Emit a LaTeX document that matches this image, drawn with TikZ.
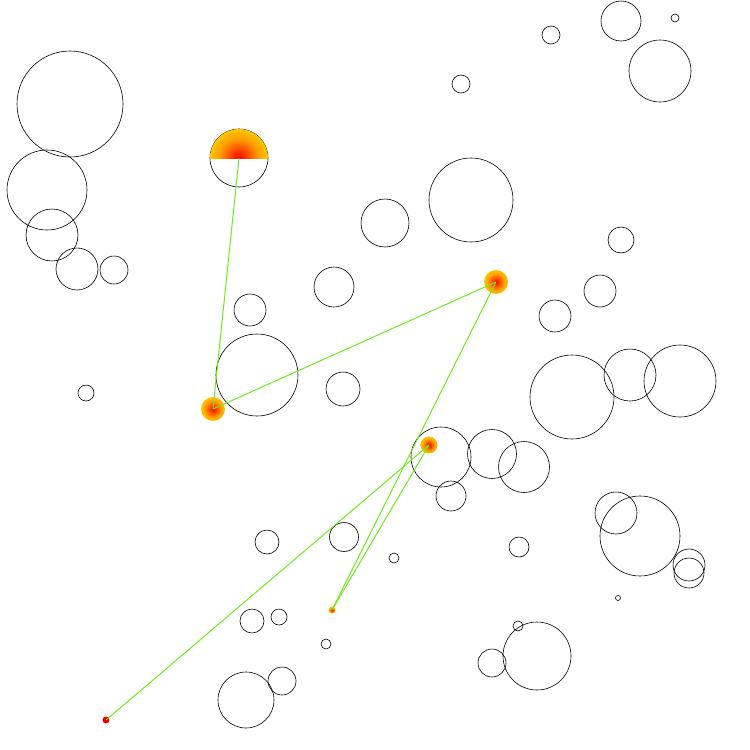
\documentclass[tikz,border=0pt]{standalone}
\usetikzlibrary{shapes.geometric}
\pgfdeclareradialshading{fire}{\pgfpoint{0bp}{0bp}}{color(0bp)=(red); color(8bp)=(red!40!orange); color(17bp)=(orange!75!yellow); color(25bp)=(orange!45!yellow); color(50bp)=(orange!45!yellow)}
\pgfdeclareradialshading{redfire}{\pgfpoint{0bp}{0bp}}{color(0bp)=(red!80!black); color(25bp)=(red); color(50bp)=(red)}
\definecolor{linkgreen}{RGB}{110,235,30}
\tikzset{
  ring/.style={draw=black, line width=0.6pt},
  hot/.style={circle, inner sep=0pt, shading=fire, draw=none},
  hotred/.style={circle, inner sep=0pt, shading=redfire, draw=none},
  link/.style={draw=linkgreen, line width=1pt}
}
\begin{document}
\begin{tikzpicture}[x=1pt,y=-1pt]
\useasboundingbox (0,0) rectangle (750,750);
% plain circles
\foreach \x/\y/\r in {
 70/104/53, 47/190/40, 52/235/26, 77/269/21, 114/270/14, 86/393/8,
 239/158/29, 250/310/16, 257/375/41, 334/287/20, 343/389/17, 385/223/24,
 471/200/42, 461/84/9, 551/35/9, 621/21/20, 675/18/4, 660/71/31,
 621/240/13, 600/291/16, 555/316/16, 572/397/42, 630/375/26, 680/381/36,
 441/457/30, 492/454/24.5, 524/467/25.5, 451/496/15, 616/513/21, 640/536/40,
 689/565/16, 689/573/15, 618/598/2.5, 519/547/10, 537/656/34, 492/663/14,
 518/626/5, 394/558/5, 344/537/14.5, 267/542/12, 252/621/12, 279/617/8,
 326/644/5, 246/700/28, 282/681/14}
{\draw[ring] (\x,\y) circle (\r);}
% shaded half disk
\begin{scope}
\clip (209,128) rectangle (269,158);
\node[hot, minimum size=58pt] (a) at (239,158) {};
\end{scope}
\node[hot, minimum size=24pt] (b) at (213,409) {};
\node[hot, minimum size=24pt] (c) at (496,282) {};
\node[hot, minimum size=17pt] (d) at (429,445) {};
\node[hot, minimum size=7pt] (e) at (332,610) {};
\node[hotred, minimum size=7pt] (f) at (106,720) {};
% links
\draw[link] (a.center) -- (b.center);
\draw[link] (b.center) -- (c.center);
\draw[link] (c.center) -- (e.center);
\draw[link] (d.center) -- (e.center);
\draw[link] (d.center) -- (f.center);
\end{tikzpicture}
\end{document}
